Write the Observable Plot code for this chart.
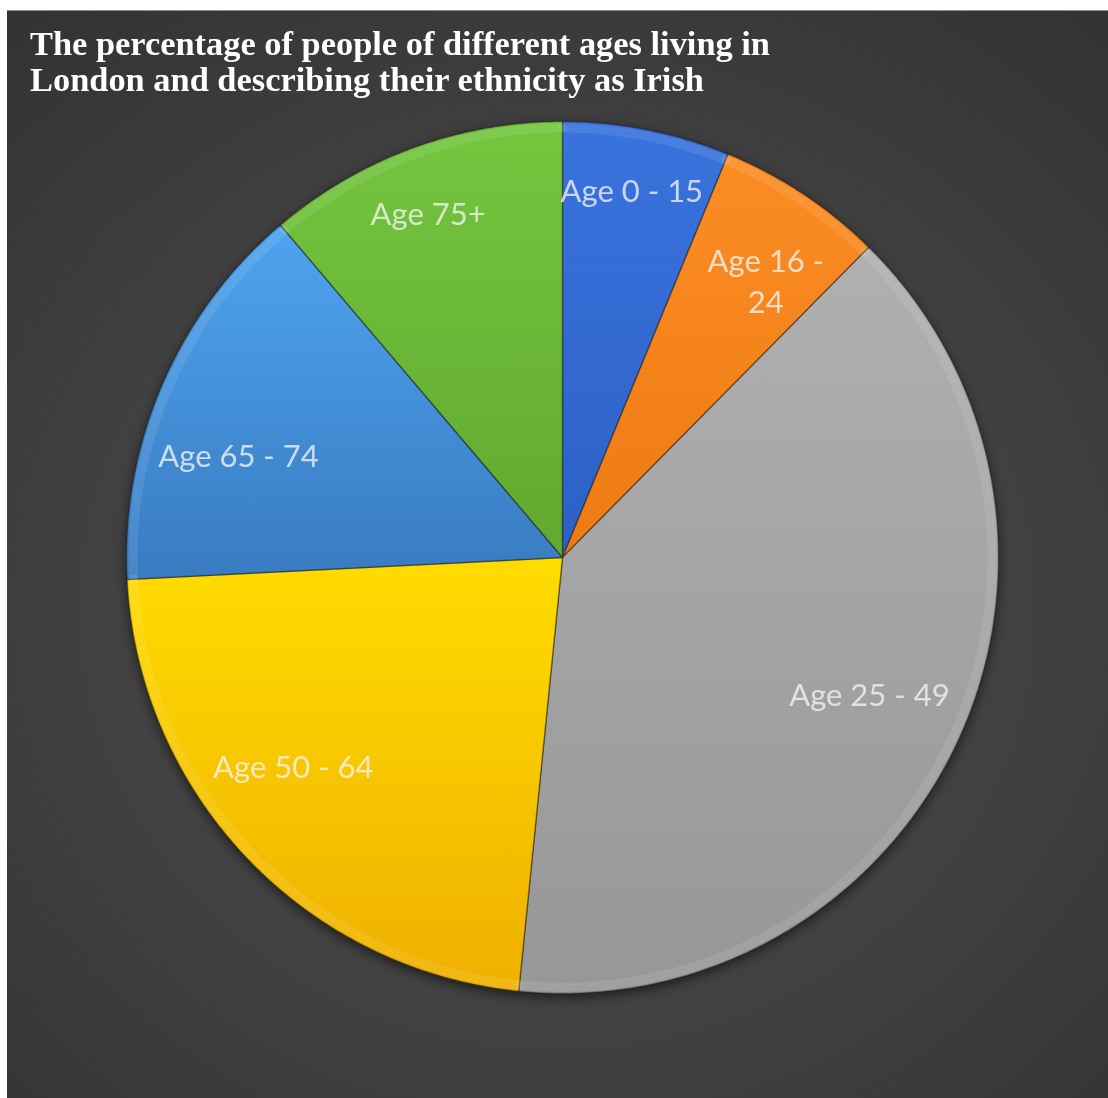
<!DOCTYPE html>
<html><head><meta charset="utf-8">
<script src="https://cdn.jsdelivr.net/npm/d3@7"></script>
<script src="https://cdn.jsdelivr.net/npm/@observablehq/plot@0.6"></script>
<style>
html,body{margin:0;padding:0;background:#fff;}
body{width:1108px;height:1098px;position:relative;overflow:hidden;}
#frame{position:absolute;left:7px;top:10px;width:1101px;height:1088px;
  background:radial-gradient(ellipse 75% 70% at 50% 55%, #4b4b4b 0%, #434343 50%, #333333 100%);
  border-top:1px solid #8a8a8a;box-sizing:border-box;}
#title{position:absolute;left:23px;top:15px;color:#fff;font-family:"Liberation Serif",serif;font-weight:bold;
  font-size:34px;line-height:36px;white-space:nowrap;transform-origin:0 0;}
#chart{position:absolute;left:0;top:105px;}
#chart svg{filter:drop-shadow(0 4px 6px rgba(0,0,0,0.55));}
</style></head><body>
<div id="frame">
  <div id="title"><span id="t1">The percentage of people of different ages living in</span><br><span>London and describing their ethnicity as Irish</span></div>
  <div id="chart"></div>
</div>
<script>
// ---- data ----
const categories = ["Age 0 - 15", "Age 16 - 24", "Age 25 - 49", "Age 50 - 64", "Age 65 - 74", "Age 75+"];
const values = [6.2, 6.2, 39.2, 22.6, 14.6, 11.2];
const labelText = ["Age 0 - 15", "Age 16 -\n24", "Age 25 - 49", "Age 50 - 64", "Age 65 - 74", "Age 75+"];

// ---- styles ----
const colorTop = ["#3a73dd", "#fb8d24", "#b0b0b0", "#ffdc00", "#4ea4ef", "#75c63f"];
const colorBottom = ["#2c60c6", "#ee7a12", "#979797", "#efb000", "#397bc1", "#61a82f"];
// label placement (fraction of radius, angular nudge in degrees)
const labelRadius = [0.86, 0.79, 0.77, 0.78, 0.78, 0.85];
const labelNudge = [-0.5, 2.7, -1.3, 5.9, -5.7, -1.1];

// title scaling to match condensed face
const t = document.getElementById("title");
const w1 = document.getElementById("t1").getBoundingClientRect().width;
t.style.transform = `scaleX(${740 / w1})`;

const data = categories.map((c, i) => ({category: c, value: values[i], label: labelText[i], i}));
const arcs = d3.pie().sort(null).value(d => d.value)(data);

function arcPoints(a, r) {
  const pts = [];
  const n = Math.max(8, Math.ceil((a.endAngle - a.startAngle) / (Math.PI / 360)));
  for (let k = 0; k <= n; k++) {
    const ang = a.startAngle + (a.endAngle - a.startAngle) * k / n;
    pts.push({x: r * Math.sin(ang), y: r * Math.cos(ang)});
  }
  return pts;
}
const polygon = a => [{x: 0, y: 0}, ...arcPoints(a, 1)];

const labels = arcs.map(a => {
  const i = a.data.i;
  const ang = (a.startAngle + a.endAngle) / 2 + labelNudge[i] * Math.PI / 180;
  return {label: a.data.label, x: labelRadius[i] * Math.sin(ang), y: labelRadius[i] * Math.cos(ang)};
});

const W = 1101, H = 983, cx = 555, cy = 441, R = 436;

const marks = [];
arcs.forEach(a => {
  marks.push(Plot.line(polygon(a), {x: "x", y: "y", curve: "linear-closed",
    fill: `url(#grad${a.data.i})`, stroke: "#1c1c1c", strokeOpacity: 0.45, strokeWidth: 1.5}));
});
arcs.forEach(a => {
  marks.push(Plot.line(arcPoints(a, 0.985), {x: "x", y: "y", stroke: "#ffffff", strokeOpacity: 0.09, strokeWidth: 9}));
});
marks.push(Plot.text(labels, {x: "x", y: "y", text: "label", fill: "#f4f4f4", fillOpacity: 0.78,
  fontFamily: "Lato, 'Open Sans', sans-serif", fontSize: 31, lineHeight: 1.3}));

const svg = Plot.plot({
  width: W, height: H, margin: 0,
  x: {domain: [-1, 1], range: [cx - R, cx + R], axis: null},
  y: {domain: [-1, 1], range: [cy + R, cy - R], axis: null},
  style: {background: "transparent", overflow: "visible"},
  marks
});
const defs = d3.select(svg).insert("defs", ":first-child");
colorTop.forEach((c, i) => {
  const g = defs.append("linearGradient").attr("id", `grad${i}`).attr("x1", 0).attr("y1", 0).attr("x2", 0).attr("y2", 1);
  g.append("stop").attr("offset", "0%").attr("stop-color", c);
  g.append("stop").attr("offset", "100%").attr("stop-color", colorBottom[i]);
});
document.getElementById("chart").appendChild(svg);
</script>
</body></html>
